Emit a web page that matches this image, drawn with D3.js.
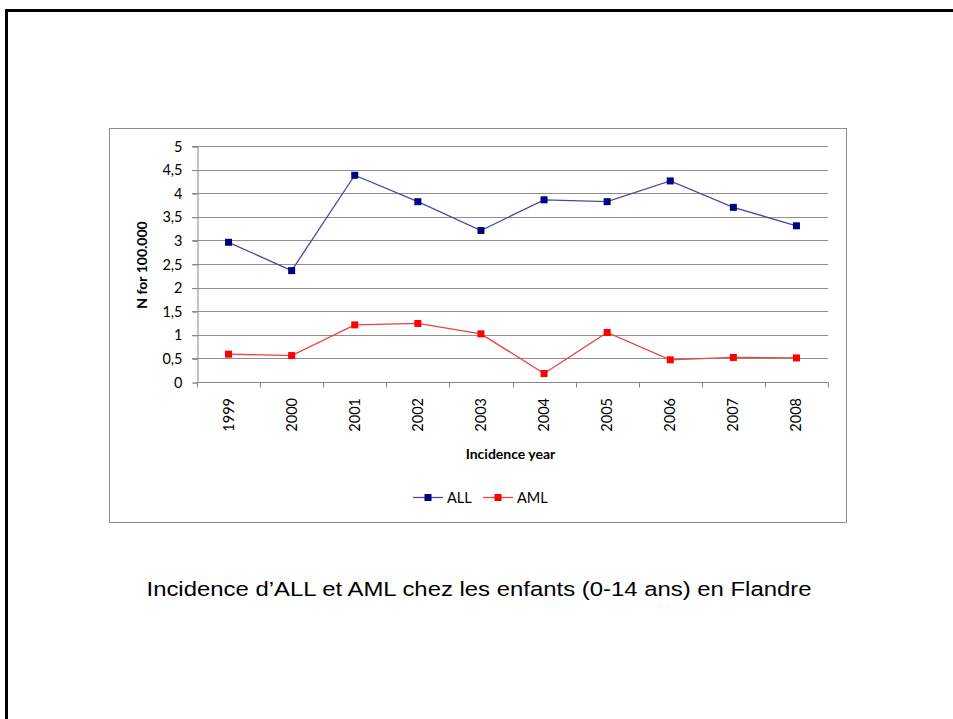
<!DOCTYPE html>
<html>
<head>
<meta charset="utf-8">
<script src="https://cdn.jsdelivr.net/npm/d3@7"></script>
<style>
  html, body { margin: 0; padding: 0; background: #fff; }
  svg { display: block; }
</style>
</head>
<body>
<svg id="chart" width="953" height="719"></svg>
<script>
// Incidence of childhood leukaemia (per 100.000), Flanders
const years = ["1999", "2000", "2001", "2002", "2003", "2004", "2005", "2006", "2007", "2008"];
const allValues = [2.96, 2.36, 4.38, 3.82, 3.21, 3.86, 3.82, 4.26, 3.70, 3.31];
const amlValues = [0.59, 0.56, 1.21, 1.24, 1.02, 0.18, 1.05, 0.47, 0.52, 0.51];
const yTicks = [0, 0.5, 1, 1.5, 2, 2.5, 3, 3.5, 4, 4.5, 5];
const seriesNames = ["ALL", "AML"];

const series = [
  { name: seriesNames[0], values: allValues, line: "#4a4a9c", marker: "#000080" },
  { name: seriesNames[1], values: amlValues, line: "#e8453f", marker: "#ff0000" }
];

const svg = d3.select("#chart");
const axisFont = "Lato, 'Open Sans', sans-serif";

// Slide frame
svg.append("path")
  .attr("d", "M6.5,719 V10.5 H953")
  .attr("fill", "none")
  .attr("stroke", "#000")
  .attr("stroke-width", 3);

// Chart box
svg.append("rect")
  .attr("x", 109.5).attr("y", 128.5)
  .attr("width", 737).attr("height", 394)
  .attr("fill", "#fff")
  .attr("stroke", "#8c8c8c")
  .attr("stroke-width", 1);

const plot = { left: 197, right: 828, top: 146, bottom: 382 };

const x = d3.scaleBand().domain(years).range([plot.left, plot.right]);
const y = d3.scaleLinear().domain([0, 5]).range([plot.bottom, plot.top]);

// Horizontal gridlines (extend left as tick marks)
svg.append("g")
  .selectAll("line")
  .data(yTicks.filter(d => d > 0))
  .join("line")
  .attr("x1", plot.left - 5).attr("x2", plot.right)
  .attr("y1", d => Math.round(y(d)) + 0.5).attr("y2", d => Math.round(y(d)) + 0.5)
  .attr("stroke", "#8f8f8f")
  .attr("stroke-width", 1);

// Y axis
const yAxis = svg.append("g")
  .attr("transform", `translate(${plot.left + 0.5},0.5)`)
  .call(d3.axisLeft(y).tickValues(yTicks).tickSize(5).tickPadding(10)
    .tickFormat(d => String(d).replace(".", ",")));
yAxis.select(".domain").attr("stroke", "#868686");
yAxis.selectAll(".tick line").attr("stroke", "#868686");
yAxis.selectAll("text")
  .attr("font-family", axisFont)
  .attr("font-size", 14.5)
  .attr("fill", "#000");

// X axis: ticks at category boundaries
const xAxisG = svg.append("g").attr("transform", `translate(0,${plot.bottom + 0.5})`);
xAxisG.append("line")
  .attr("x1", plot.left).attr("x2", plot.right)
  .attr("stroke", "#868686");
const boundaries = years.map(d => x(d)).concat([plot.right]);
xAxisG.selectAll("line.tick")
  .data(boundaries)
  .join("line")
  .attr("class", "tick")
  .attr("x1", d => Math.round(d) + 0.5).attr("x2", d => Math.round(d) + 0.5)
  .attr("y1", 0).attr("y2", 5)
  .attr("stroke", "#868686");
xAxisG.selectAll("text")
  .data(years)
  .join("text")
  .attr("transform", d => `translate(${x(d) + x.bandwidth() / 2 + 5},15.5) rotate(-90)`)
  .attr("text-anchor", "end")
  .attr("font-family", axisFont)
  .attr("font-size", 14.5)
  .attr("fill", "#000")
  .text(d => d);

// Axis titles
svg.append("text")
  .attr("transform", `translate(147,265) rotate(-90)`)
  .attr("text-anchor", "middle")
  .attr("font-family", axisFont)
  .attr("font-weight", "bold")
  .attr("font-size", 14)
  .text("N for 100.000");

svg.append("text")
  .attr("x", 510.5).attr("y", 459)
  .attr("text-anchor", "middle")
  .attr("font-family", axisFont)
  .attr("font-weight", "bold")
  .attr("font-size", 14)
  .text("Incidence year");

// Series lines and markers
const line = d3.line()
  .x((d, i) => x(years[i]) + x.bandwidth() / 2)
  .y(d => y(d));

series.forEach(s => {
  svg.append("path")
    .datum(s.values)
    .attr("d", line)
    .attr("fill", "none")
    .attr("stroke", s.line)
    .attr("stroke-width", 1.3);
  svg.append("g")
    .selectAll("rect")
    .data(s.values)
    .join("rect")
    .attr("x", (d, i) => x(years[i]) + x.bandwidth() / 2 - 3.5)
    .attr("y", d => y(d) - 3.5)
    .attr("width", 7).attr("height", 7)
    .attr("fill", s.marker);
});

// Legend
const legendItems = [
  { s: series[0], x0: 413 },
  { s: series[1], x0: 483 }
];
const legendY = 497.5;
legendItems.forEach(item => {
  const g = svg.append("g");
  g.append("line")
    .attr("x1", item.x0).attr("x2", item.x0 + 30)
    .attr("y1", legendY).attr("y2", legendY)
    .attr("stroke", item.s.line).attr("stroke-width", 1.3);
  g.append("rect")
    .attr("x", item.x0 + 15 - 3.5).attr("y", legendY - 3.5)
    .attr("width", 7).attr("height", 7)
    .attr("fill", item.s.marker);
  g.append("text")
    .attr("x", item.x0 + 34).attr("y", legendY + 5)
    .attr("font-family", axisFont)
    .attr("font-size", 14.5)
    .attr("fill", "#000")
    .text(item.s.name);
});

// Caption
svg.append("text")
  .attr("x", 479).attr("y", 596)
  .attr("text-anchor", "middle")
  .attr("font-family", "'Liberation Sans', Arial, sans-serif")
  .attr("font-size", 20.5)
  .attr("textLength", 665)
  .attr("lengthAdjust", "spacingAndGlyphs")
  .attr("fill", "#000")
  .text("Incidence d\u2019ALL et AML chez les enfants (0-14 ans) en Flandre");
</script>
</body>
</html>
